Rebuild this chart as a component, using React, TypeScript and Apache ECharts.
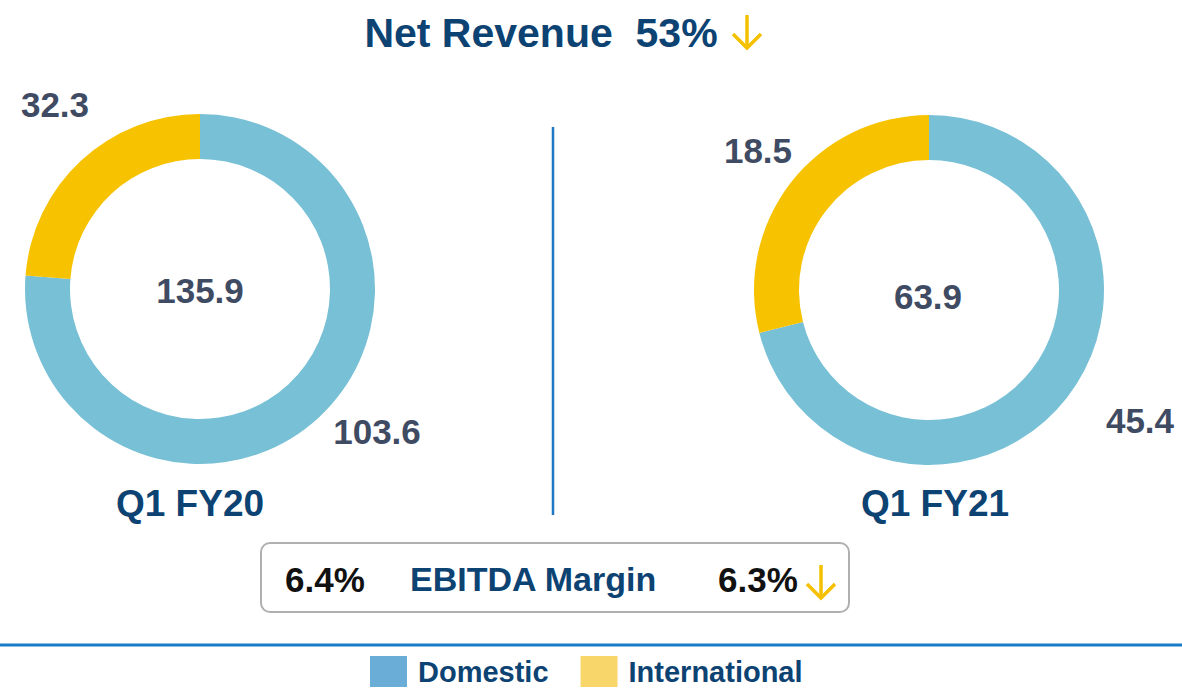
import React, { useEffect, useRef } from "react";
import * as echarts from "echarts";

const categories = ["Domestic", "International"];
const periods = ["Q1 FY20", "Q1 FY21"];
const fy20Values = [103.6, 32.3];
const fy21Values = [45.4, 18.5];
const revenueChange = "53%";
const ebitdaLabel = "EBITDA Margin";
const ebitdaValues = ["6.4%", "6.3%"];

const PIE_COLORS = ["#78c0d6", "#f7c300"];
const LEGEND_COLORS = ["#6aaed8", "#f9d66a"];
const NAVY = "#0d4373";
const LABEL = "#3f4b63";
const ARROW = "#f5c000";
const FONT = "Liberation Sans, Arial, sans-serif";

function arrow(x: number, y: number) {
  return {
    type: "group",
    x,
    y,
    children: [
      { type: "line", shape: { x1: 0, y1: 0, x2: 0, y2: 33 }, style: { stroke: ARROW, lineWidth: 3.5 } },
      {
        type: "polyline",
        shape: { points: [[-14, 19], [0, 33], [14, 19]] },
        style: { stroke: ARROW, lineWidth: 3.5, fill: null },
      },
    ],
  };
}

export default function App() {
  const ref = useRef<HTMLDivElement>(null);
  useEffect(() => {
    document.body.style.margin = "0";
    const chart = echarts.init(ref.current!, null, { renderer: "svg" });
    const total20 = fy20Values.reduce((a, b) => a + b, 0);
    const total21 = fy21Values.reduce((a, b) => a + b, 0);
    const txt = (text: string, x: number, y: number, size: number, color: string, align = "center") => ({
      type: "text",
      x,
      y,
      style: {
        text,
        fill: color,
        font: `bold ${size}px ${FONT}`,
        textAlign: align,
        textVerticalAlign: "middle",
      },
    });
    const pie = (values: number[], cx: number, cy: number) => ({
      type: "pie",
      center: [cx, cy],
      radius: [130, 175],
      startAngle: 90,
      clockwise: true,
      label: { show: false },
      labelLine: { show: false },
      emphasis: { disabled: true },
      data: values.map((v, i) => ({ name: categories[i], value: v, itemStyle: { color: PIE_COLORS[i] } })),
    });
    chart.setOption({
      animation: false,
      legend: {
        left: 365,
        top: 651,
        icon: "rect",
        itemWidth: 37,
        itemHeight: 31,
        itemGap: 32,
        selectedMode: false,
        data: categories.map((c, i) => ({ name: c, itemStyle: { color: LEGEND_COLORS[i] } })),
        textStyle: {
          fontFamily: FONT,
          fontWeight: "bold",
          fontSize: 29,
          lineHeight: 30,
          color: NAVY,
          padding: [0, 0, 0, 6],
        },
      },
      series: [pie(fy20Values, 200, 289), pie(fy21Values, 929, 290)],
      graphic: [
        txt(`Net Revenue  ${revenueChange}`, 541, 33, 41, NAVY),
        arrow(747, 15),
        { type: "line", shape: { x1: 553, y1: 127, x2: 553, y2: 515 }, style: { stroke: "#1f78c1", lineWidth: 2.5 } },
        txt(fy20Values[1].toFixed(1), 55, 104, 35, LABEL),
        txt(fy20Values[0].toFixed(1), 377, 431, 35, LABEL),
        txt(total20.toFixed(1), 200, 290, 35, LABEL),
        txt(fy21Values[1].toFixed(1), 758, 150, 35, LABEL),
        txt(fy21Values[0].toFixed(1), 1140, 420, 35, LABEL),
        txt(total21.toFixed(1), 928, 296, 35, LABEL),
        txt(periods[0], 190, 503, 37, NAVY),
        txt(periods[1], 935, 503, 37, NAVY),
        {
          type: "rect",
          shape: { x: 261, y: 543, width: 588, height: 69, r: 9 },
          style: { fill: "#fff", stroke: "#b0b0b0", lineWidth: 2 },
        },
        txt(ebitdaValues[0], 285, 579, 35, "#111", "left"),
        txt(ebitdaLabel, 410, 579, 34, NAVY, "left"),
        txt(ebitdaValues[1], 718, 579, 35, "#111", "left"),
        arrow(821, 565),
        { type: "line", shape: { x1: 0, y1: 645, x2: 1182, y2: 645 }, style: { stroke: "#1a7cc8", lineWidth: 3 } },
      ],
    });
    return () => chart.dispose();
  }, []);
  return <div ref={ref} style={{ width: 1182, height: 689 }} />;
}
